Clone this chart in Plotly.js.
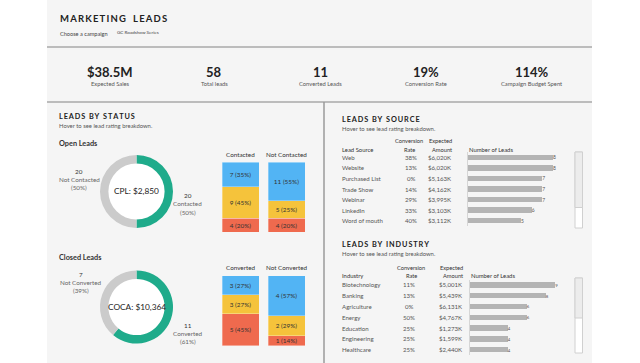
<!DOCTYPE html>
<html>
<head>
<meta charset="utf-8">
<script src="https://cdn.plot.ly/plotly-3.0.1.min.js"></script>
<style>html,body{margin:0;padding:0;background:#fff;}#chart{width:640px;height:363px;}</style>
</head>
<body>
<div id="chart"></div>
<script>
// ---------- DATA ----------
const kpiValues = ['$38.5M', '58', '11', '19%', '114%'];
const kpiLabels = ['Expected Sales', 'Total leads', 'Converted Leads', 'Conversion Rate', 'Campaign Budget Spent'];

const openLabels = ['Contacted', 'Not Contacted'];
const openValues = [20, 20];
const openPct = [50, 50];
const closedLabels = ['Converted', 'Not Converted'];
const closedValues = [11, 7];
const closedPct = [61, 39];

const ratings = ['Hot', 'Warm', 'Cold'];           // bottom -> top
const contactedCounts = [4, 9, 7];
const contactedPct = [20, 45, 35];
const notContactedCounts = [4, 5, 11];
const notContactedPct = [20, 25, 55];
const convertedCounts = [5, 3, 3];
const convertedPct = [45, 27, 27];
const notConvertedCounts = [1, 2, 4];
const notConvertedPct = [14, 29, 57];

const sourceNames = ['Web', 'Website', 'Purchased List', 'Trade Show', 'Webinar', 'LinkedIn', 'Word of mouth'];
const sourceRates = ['38%', '13%', '0%', '14%', '29%', '33%', '40%'];
const sourceAmounts = ['$6,020K', '$6,020K', '$5,163K', '$4,162K', '$3,995K', '$3,103K', '$3,112K'];
const sourceLeads = [8, 8, 7, 7, 7, 6, 5];

const industryNames = ['Biotechnology', 'Banking', 'Agriculture', 'Energy', 'Education', 'Engineering', 'Healthcare'];
const industryRates = ['11%', '13%', '0%', '50%', '25%', '25%', '25%'];
const industryAmounts = ['$5,001K', '$5,439K', '$6,131K', '$4,767K', '$1,273K', '$1,599K', '$2,440K'];
const industryLeads = [9, 8, 6, 6, 4, 4, 4];

// ---------- STYLE ----------
const W = 640, H = 363;
const F = 'Lato, "Open Sans", sans-serif';
const ratingColors = ['#ef6a4e', '#f5c33b', '#52b4f4'];
const donutColors = ['#1fab8b', '#cbcbcb'];
const px = x => x / W;
const py = y => 1 - y / H;
const spaced = s => s.split('').join('\u2009');

function A(text, x, y, o) {
  o = o || {};
  return {
    text: text, x: px(x), y: py(y), xref: 'paper', yref: 'paper',
    showarrow: false, xanchor: o.xa || 'left', yanchor: 'middle', borderpad: 0,
    align: o.xa === 'right' ? 'right' : (o.xa === 'center' ? 'center' : 'left'),
    font: { family: F, size: o.s || 6.3, color: o.c || '#555', weight: o.w || 'normal' }
  };
}
function R(text, x, idx, yaxis, o) {
  o = o || {};
  return {
    text: text, x: px(x), y: idx, xref: 'paper', yref: yaxis, borderpad: 0,
    showarrow: false, xanchor: o.xa || 'left', yanchor: 'middle',
    font: { family: F, size: o.s || 6.3, color: o.c || '#555' }
  };
}

const traces = [];
const annotations = [];
const layout = {
  width: W, height: H, margin: { l: 0, r: 0, t: 0, b: 0 },
  paper_bgcolor: '#ffffff', plot_bgcolor: 'rgba(0,0,0,0)',
  showlegend: false, barmode: 'stack', hovermode: false,
  font: { family: F }
};

// ---------- background shapes ----------
layout.shapes = [
  { type: 'rect', xref: 'paper', yref: 'paper', x0: px(47), x1: px(592), y0: 0, y1: 1, fillcolor: '#f5f5f5', line: { width: 0 }, layer: 'below' },
  { type: 'line', xref: 'paper', yref: 'paper', x0: px(47), x1: px(592), y0: py(47), y1: py(47), line: { color: '#a8a8a8', width: 1.5 }, layer: 'below' },
  { type: 'line', xref: 'paper', yref: 'paper', x0: px(47), x1: px(592), y0: py(102), y1: py(102), line: { color: '#a8a8a8', width: 1.5 }, layer: 'below' },
  { type: 'line', xref: 'paper', yref: 'paper', x0: px(324), x1: px(324), y0: py(102), y1: 0, line: { color: '#9a9a9a', width: 1.5 }, layer: 'below' },
  // donut holes (white)
  { type: 'circle', xref: 'paper', yref: 'paper', x0: px(107), x1: px(166), y0: py(221), y1: py(162), fillcolor: '#ffffff', line: { width: 0 }, layer: 'below' },
  { type: 'circle', xref: 'paper', yref: 'paper', x0: px(107), x1: px(166), y0: py(336.5), y1: py(277.5), fillcolor: '#ffffff', line: { width: 0 }, layer: 'below' },
  // scrollbars
  { type: 'rect', xref: 'paper', yref: 'paper', x0: px(575), x1: px(582.5), y0: py(228), y1: py(152), fillcolor: '#ffffff', line: { color: '#d0d0d0', width: 1 } },
  { type: 'rect', xref: 'paper', yref: 'paper', x0: px(575), x1: px(582.5), y0: py(207.5), y1: py(152), fillcolor: '#ececec', line: { color: '#d0d0d0', width: 1 } },
  { type: 'rect', xref: 'paper', yref: 'paper', x0: px(575), x1: px(582.5), y0: py(353), y1: py(278), fillcolor: '#ffffff', line: { color: '#d0d0d0', width: 1 } },
  { type: 'rect', xref: 'paper', yref: 'paper', x0: px(575), x1: px(582.5), y0: py(318), y1: py(278), fillcolor: '#ececec', line: { color: '#d0d0d0', width: 1 } }
];

// ---------- header ----------
annotations.push(A('<b>' + spaced('MARKETING') + '\u2003' + spaced('LEADS') + '</b>', 59, 19, { s: 9.5, c: '#222' }));
annotations.push(A('Choose a campaign', 59, 33.5, { s: 5.6, c: '#444' }));
annotations.push(A('GC Roadshow Series', 116, 32.5, { s: 4.6, c: '#444' }));

const kpiX = [110, 214, 320, 426, 532];
kpiValues.forEach((v, i) => {
  annotations.push(A(v, kpiX[i], 72, { xa: 'center', s: 13, c: '#222', w: 'bold' }));
  annotations.push(A(kpiLabels[i], kpiX[i], 83.5, { xa: 'center', s: 5.8, c: '#555' }));
});

// ---------- leads by status ----------
annotations.push(A('<b>' + spaced('LEADS') + '\u2002' + spaced('BY') + '\u2002' + spaced('STATUS') + '</b>', 57.5, 116, { s: 7.3, c: '#222' }));
annotations.push(A('Hover to see lead rating breakdown.', 57.5, 125.3, { s: 5.9, c: '#555' }));
annotations.push(A('Open Leads', 57.5, 143.7, { s: 7.3, c: '#333', w: 'bold' }));
annotations.push(A('Closed Leads', 57.5, 257.7, { s: 7.3, c: '#333', w: 'bold' }));

function donut(labels, values, y0, y1) {
  traces.push({
    type: 'pie', labels: labels, values: values, sort: false, direction: 'clockwise', rotation: 0,
    hole: 0.77, textinfo: 'none', marker: { colors: donutColors, line: { width: 0 } },
    domain: { x: [px(100), px(173)], y: [py(y1), py(y0)] }, showlegend: false
  });
}
donut(openLabels, openValues, 155, 228);
donut(closedLabels, closedValues, 270.5, 343.5);
annotations.push(A('CPL: $2,850', 136.5, 191.5, { xa: 'center', s: 8.3, c: '#222' }));
annotations.push(A('COCA: $10,364', 136.5, 307, { xa: 'center', s: 8.3, c: '#222' }));

function donutLabel(value, label, pct, cx, ytop) {
  annotations.push(A(String(value), cx, ytop, { xa: 'center', s: 6.3, c: '#333' }));
  annotations.push(A(label, cx, ytop + 8.2, { xa: 'center', s: 6.3, c: '#666' }));
  annotations.push(A('(' + pct + '%)', cx, ytop + 16.4, { xa: 'center', s: 6.3, c: '#666' }));
}
donutLabel(openValues[1], openLabels[1], openPct[1], 79, 171);
donutLabel(openValues[0], openLabels[0], openPct[0], 187.5, 195.7);
donutLabel(closedValues[1], closedLabels[1], closedPct[1], 81, 274.3);
donutLabel(closedValues[0], closedLabels[0], closedPct[0], 187.5, 325);

// stacked columns
function stackCol(axN, counts, pcts, x0, x1, ytop, ybot) {
  const xa = 'x' + axN, ya = 'y' + axN;
  counts.forEach((c, i) => {
    traces.push({
      type: 'bar', x: [0], y: [c], width: [1], xaxis: xa, yaxis: ya,
      marker: { color: ratingColors[i], line: { color: 'rgba(255,255,255,0.5)', width: 0.6 } },
      name: ratings[i], text: [c + ' (' + pcts[i] + '%)'], textposition: 'inside',
      insidetextanchor: 'middle', textangle: 0, constraintext: 'none',
      textfont: { family: F, size: 6.4, color: '#333' }
    });
  });
  const total = counts.reduce((a, b) => a + b, 0);
  layout['xaxis' + axN] = { domain: [px(x0), px(x1)], range: [-0.5, 0.5], visible: false, anchor: ya, fixedrange: true };
  layout['yaxis' + axN] = { domain: [py(ybot), py(ytop)], range: [0, total], visible: false, anchor: xa, fixedrange: true };
}
stackCol('', contactedCounts, contactedPct, 222, 259, 162.3, 232.3);
stackCol('2', notContactedCounts, notContactedPct, 268, 305, 162.3, 232.3);
stackCol('3', convertedCounts, convertedPct, 222, 259, 275.7, 345.7);
stackCol('4', notConvertedCounts, notConvertedPct, 268, 305, 275.7, 345.7);
annotations.push(A(openLabels[0], 240.5, 154.3, { xa: 'center', s: 6.3, c: '#333' }));
annotations.push(A(openLabels[1], 286.5, 154.3, { xa: 'center', s: 6.3, c: '#333' }));
annotations.push(A(closedLabels[0], 240.5, 267.5, { xa: 'center', s: 6.3, c: '#333' }));
annotations.push(A(closedLabels[1], 286.5, 267.5, { xa: 'center', s: 6.3, c: '#333' }));

// ---------- tables ----------
function table(axN, title, firstHeader, names, rates, amounts, leads, cfg) {
  const xa = 'x' + axN, ya = 'y' + axN;
  annotations.push(A('<b>' + title + '</b>', 341, cfg.titleY, { s: 7.3, c: '#222' }));
  annotations.push(A('Hover to see lead rating breakdown.', 341, cfg.titleY + 9.5, { s: 5.9, c: '#555' }));
  annotations.push(A(firstHeader, 341, cfg.headY, { s: 5.9, c: '#333' }));
  annotations.push(A('Conversion', cfg.rateHX, cfg.headY - 8.2, { xa: 'center', s: 5.7, c: '#333' }));
  annotations.push(A('Rate', cfg.rateHX, cfg.headY, { xa: 'center', s: 5.7, c: '#333' }));
  annotations.push(A('Expected', cfg.amtX, cfg.headY - 8.2, { xa: 'right', s: 5.7, c: '#333' }));
  annotations.push(A('Amount', cfg.amtX, cfg.headY, { xa: 'right', s: 5.7, c: '#333' }));
  annotations.push(A('Number of Leads', cfg.barX0, cfg.headY, { s: 5.9, c: '#333' }));
  names.forEach((n, i) => {
    annotations.push(R(n, 341, i, ya, { s: 6.1, c: '#555' }));
    annotations.push(R(rates[i], cfg.rateX, i, ya, { xa: 'center', s: 6.1, c: '#555' }));
    annotations.push(R(amounts[i], cfg.amtX, i, ya, { xa: 'right', s: 6.1, c: '#555' }));
  });
  traces.push({
    type: 'bar', orientation: 'h', x: leads, y: names, xaxis: xa, yaxis: ya, width: cfg.barW,
    marker: { color: '#b4b4b4' }, text: leads.map(String), textposition: 'outside', cliponaxis: false,
    textfont: { family: F, size: cfg.valSize, color: '#555' }
  });
  const unit = cfg.unitPx;
  layout['xaxis' + axN] = { domain: [px(cfg.barX0), px(cfg.barX0 + unit * cfg.xMax)], range: [0, cfg.xMax], visible: false, anchor: ya, fixedrange: true };
  layout['yaxis' + axN] = {
    domain: [py(cfg.rowBot), py(cfg.rowTop)], type: 'category', range: [names.length - 0.5, -0.5],
    anchor: xa, showline: true, linecolor: '#d6d6d6', linewidth: 1, showticklabels: false, ticks: '',
    showgrid: false, zeroline: false, fixedrange: true
  };
}
table('5', spaced('LEADS') + '\u2002' + spaced('BY') + '\u2002' + spaced('SOURCE'), 'Lead Source',
  sourceNames, sourceRates, sourceAmounts, sourceLeads,
  { titleY: 119, headY: 149, rateHX: 409, rateX: 411, amtX: 453, barX0: 467.7, unitPx: 10.66, xMax: 10,
    rowTop: 152, rowBot: 226, barW: 0.52, valSize: 6.3 });
table('6', spaced('LEADS') + '\u2002' + spaced('BY') + '\u2002' + spaced('INDUSTRY'), 'Industry',
  industryNames, industryRates, industryAmounts, industryLeads,
  { titleY: 244.3, headY: 275.5, rateHX: 411, rateX: 409, amtX: 464, barX0: 469.7, unitPx: 9.51, xMax: 11,
    rowTop: 279.6, rowBot: 355.1, barW: 0.5, valSize: 4.8 });

layout.annotations = annotations;
Plotly.newPlot('chart', traces, layout, { displayModeBar: false, staticPlot: true });
</script>
</body>
</html>
